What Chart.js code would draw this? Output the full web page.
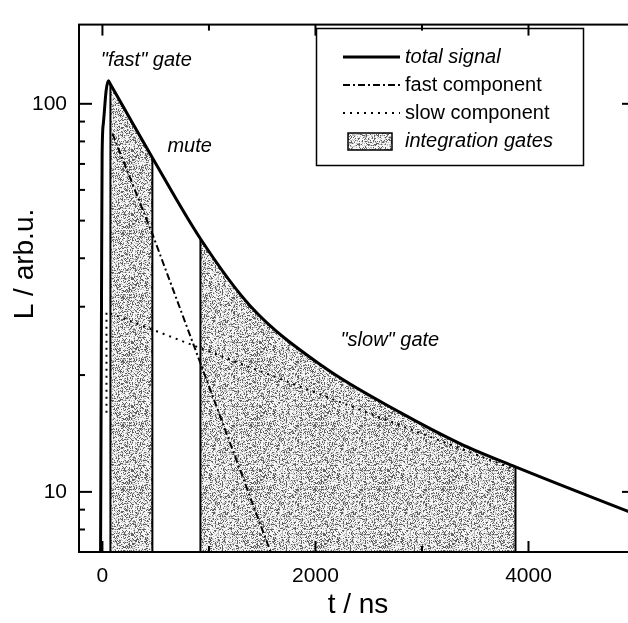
<!DOCTYPE html>
<html>
<head>
<meta charset="utf-8">
<script src="https://cdn.jsdelivr.net/npm/chart.js@4.4.1/dist/chart.umd.min.js"></script>
<style>
  html, body { margin: 0; padding: 0; background: #fff; overflow: hidden; }
  canvas { display: block; }
</style>
</head>
<body>
<canvas id="decayChart" width="640" height="623"></canvas>
<script>
// luminescence decay: total signal, its two components and the integration gates
const totalT = [-18, -9, -3, 9, 35, 56, 75, 270, 469, 920, 1390, 2075, 2798, 3362, 3878, 4930, 5000];
const totalL = [6.5, 29.6, 73.8, 89.2, 108.3, 114.7, 112.3, 90.5, 72.6, 44.9, 30.1, 21.0, 16.0, 13.3, 11.6, 8.92, 8.77];

const fastT = [94, 469, 1650];
const fastL = [83.8, 46.2, 6.2];

const slowT = [38, 38, 3878];
const slowL = [16, 29.1, 11.4];

const fastGate = [75, 469];
const slowGate = [920, 3878];

const xTicks = [0, 2000, 4000];
const xMinorTicks = [1000, 3000, 5000];
const yTicks = [10, 100];
const yMinorTicks = [8, 9, 20, 30, 40, 50, 60, 70, 80, 90];

const notes = [
  { text: '"fast" gate', t: -15, L: 129 },
  { text: 'mute', t: 610, L: 77.8 },
  { text: '"slow" gate', t: 2235, L: 24.5 }
];

const FONT = '"Liberation Sans", Arial, Helvetica, sans-serif';
const Y_MIN = 7;

function toPoints(ts, ls) {
  return ts.map((t, i) => ({ x: t, y: ls[i] }));
}

// grey stipple used for the gate areas
function stipple() {
  const c = document.createElement('canvas');
  c.width = c.height = 64;
  const g = c.getContext('2d');
  const img = g.createImageData(64, 64);
  let s = 20231;
  for (let i = 0; i < 64 * 64; i++) {
    s = (s * 1103515245 + 12345) & 0x7fffffff;
    const r = s / 0x7fffffff;
    const v = r < 0.22 ? 95 : (r < 0.45 ? 185 : 245);
    img.data[i * 4] = v;
    img.data[i * 4 + 1] = v;
    img.data[i * 4 + 2] = v;
    img.data[i * 4 + 3] = 255;
  }
  g.putImageData(img, 0, 0);
  return g.createPattern(c, 'repeat');
}
const grey = stipple();

const totalPts = toPoints(totalT, totalL);

function gateArea(gate) {
  return totalPts.filter(p => p.x >= gate[0] && p.x <= gate[1]);
}
function gateEdges() {
  const pts = [];
  [fastGate, slowGate].forEach(g => {
    g.forEach(t => {
      const top = totalPts.find(p => p.x === t);
      pts.push({ x: t, y: Y_MIN }, { x: t, y: top.y }, { x: t, y: null });
    });
  });
  return pts;
}

// frame, inward ticks, titles, notes and the boxed legend
const decor = {
  id: 'decor',
  afterDraw(chart) {
    const { ctx, chartArea: a, scales: { x, y } } = chart;
    ctx.save();
    ctx.strokeStyle = '#000';
    ctx.lineWidth = 2;
    ctx.strokeRect(a.left, a.top, a.right - a.left, a.bottom - a.top);

    const tick = (x1, y1, x2, y2) => {
      ctx.beginPath(); ctx.moveTo(x1, y1); ctx.lineTo(x2, y2); ctx.stroke();
    };
    ctx.lineWidth = 2;
    xTicks.concat(xMinorTicks).forEach(v => {
      const px = x.getPixelForValue(v);
      const len = xTicks.includes(v) ? 11 : 6;
      tick(px, a.bottom, px, a.bottom - len);
      tick(px, a.top, px, a.top + len);
    });
    yTicks.concat(yMinorTicks).forEach(v => {
      const py = y.getPixelForValue(v);
      const len = yTicks.includes(v) ? 13 : 6;
      tick(a.left, py, a.left + len, py);
      tick(a.right, py, a.right - len, py);
    });

    ctx.fillStyle = '#000';
    ctx.textBaseline = 'middle';
    ctx.font = '28px ' + FONT;
    ctx.textAlign = 'center';
    ctx.fillText('t / ns', 358, 605);
    ctx.save();
    ctx.translate(25, 264);
    ctx.rotate(-Math.PI / 2);
    ctx.fillText('L / arb.u.', 0, 0);
    ctx.restore();

    ctx.textAlign = 'left';
    ctx.font = 'italic 20px ' + FONT;
    notes.forEach(n => {
      ctx.fillText(n.text, x.getPixelForValue(n.t), y.getPixelForValue(n.L));
    });

    // legend
    const lx = 316, ly = 28;
    ctx.lineWidth = 1.5;
    ctx.strokeRect(lx + 0.5, ly + 0.5, 267, 137);
    const rows = chart.data.datasets.filter(d => d.legend);
    rows.forEach((d, i) => {
      const cy = ly + 29 + i * 28;
      if (d.legend === 'box') {
        ctx.fillStyle = grey;
        ctx.fillRect(lx + 32, cy - 8, 44, 17);
        ctx.lineWidth = 1.5;
        ctx.setLineDash([]);
        ctx.strokeRect(lx + 32, cy - 8, 44, 17);
      } else {
        ctx.lineWidth = d.borderWidth;
        ctx.setLineDash(d.borderDash || []);
        tick(lx + 27, cy, lx + 84, cy);
      }
      ctx.setLineDash([]);
      ctx.fillStyle = '#000';
      ctx.font = (d.italic ? 'italic ' : '') + '20px ' + FONT;
      ctx.fillText(d.label, lx + 89, cy);
    });
    ctx.restore();
  }
};

const ctx = document.getElementById('decayChart').getContext('2d');
const chart = new Chart(ctx, {
  type: 'line',
  data: {
    datasets: [
      {
        label: 'total signal',
        legend: 'line',
        italic: true,
        data: totalPts,
        borderColor: '#000',
        borderWidth: 3,
        cubicInterpolationMode: 'monotone',
        fill: false
      },
      {
        label: 'fast component',
        legend: 'line',
        data: toPoints(fastT, fastL),
        borderColor: '#000',
        borderWidth: 2,
        borderDash: [7, 3, 2, 3],
        fill: false
      },
      {
        label: 'slow component',
        legend: 'line',
        data: toPoints(slowT, slowL),
        borderColor: '#000',
        borderWidth: 2,
        borderDash: [2, 5],
        fill: false
      },
      {
        label: 'integration gates',
        legend: 'box',
        italic: true,
        data: gateEdges(),
        borderColor: '#000',
        borderWidth: 2,
        spanGaps: false,
        fill: false
      },
      {
        label: 'fast gate',
        data: gateArea(fastGate),
        borderWidth: 0,
        backgroundColor: grey,
        cubicInterpolationMode: 'monotone',
        fill: 'start'
      },
      {
        label: 'slow gate',
        data: gateArea(slowGate),
        borderWidth: 0,
        backgroundColor: grey,
        cubicInterpolationMode: 'monotone',
        fill: 'start'
      }
    ]
  },
  options: {
    responsive: false,
    animation: false,
    devicePixelRatio: 1,
    elements: { point: { radius: 0 } },
    layout: { padding: { top: 5, right: 5, left: 0, bottom: 0 } },
    scales: {
      x: {
        type: 'linear',
        min: -220,
        max: 5000,
        afterBuildTicks: s => { s.ticks = xTicks.map(v => ({ value: v })); },
        afterFit: s => { s.height = 71; },
        grid: { display: false, drawTicks: false },
        border: { display: false },
        ticks: {
          padding: 12,
          color: '#000',
          maxRotation: 0,
          font: { family: FONT, size: 21 },
          callback: v => String(v)
        }
      },
      y: {
        type: 'logarithmic',
        min: Y_MIN,
        max: 160,
        afterBuildTicks: s => { s.ticks = yTicks.map(v => ({ value: v })); },
        afterFit: s => { s.width = 79; },
        grid: { display: false, drawTicks: false },
        border: { display: false },
        ticks: {
          padding: 12,
          color: '#000',
          font: { family: FONT, size: 21 },
          callback: v => String(v)
        }
      }
    },
    plugins: {
      legend: { display: false },
      tooltip: { enabled: false }
    }
  },
  plugins: [decor]
});
</script>
</body>
</html>
